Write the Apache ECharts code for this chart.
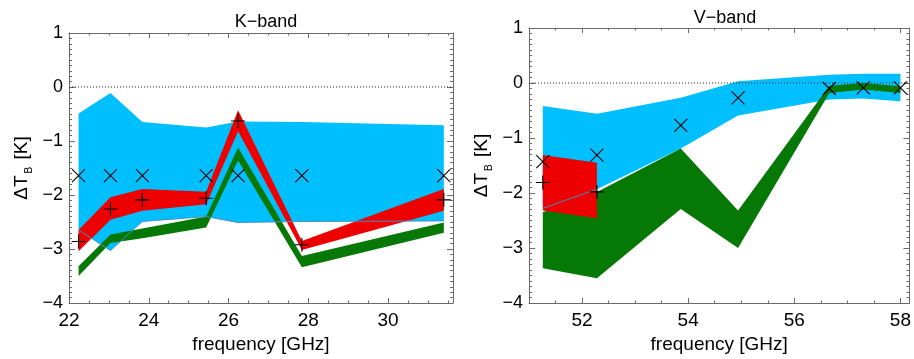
<!DOCTYPE html>
<html>
<head>
<meta charset="utf-8">
<script src="https://cdn.jsdelivr.net/npm/echarts@6.0.0/dist/echarts.min.js"></script>
<style>
html,body{margin:0;padding:0;background:#fff;}
#c{width:914px;height:359px;}
</style>
</head>
<body>
<div id="c"></div>
<script>
// ---------- K-band data ----------
const kFreq     = [22.24, 23.04, 23.84, 25.44, 26.24, 27.84, 31.40];
const kCyanHi   = [-0.49, -0.11, -0.65, -0.75, -0.64, -0.65, -0.71];
const kCyanLo   = [-2.65, -3.03, -2.49, -2.40, -2.51, -2.49, -2.48];
const kRedHi    = [-2.65, -2.04, -1.89, -1.94, -0.43, -2.85, -1.89];
const kRedLo    = [-3.04, -2.46, -2.29, -2.17, -0.82, -3.02, -2.29];
const kGreenHi  = [-3.32, -2.73, -2.62, -2.40, -1.12, -3.13, -2.51];
const kGreenLo  = [-3.50, -2.89, -2.80, -2.60, -1.36, -3.34, -2.70];
const kCross    = [-1.64, -1.64, -1.64, -1.64, -1.64, -1.64, -1.64];
const kPlus     = [-2.86, -2.26, -2.09, -2.06, -0.63, -2.92, -2.09];
const kTicks    = [22, 24, 26, 28, 30];

// ---------- V-band data ----------
const vFreq     = [51.26, 52.28, 53.86, 54.94, 56.66, 57.30, 58.00];
const vCyanHi   = [-0.42, -0.56, -0.27, 0.03, 0.15, 0.17, 0.17];
const vCyanLo   = [-2.28, -1.93, -1.19, -0.59, -0.30, -0.28, -0.33];
const vGreenHi  = [-2.35, -1.98, -1.19, -2.32, -0.05, 0.00, -0.06];
const vGreenLo  = [-3.37, -3.55, -2.29, -3.00, -0.18, -0.12, -0.18];
const vRedFreq  = [51.26, 52.28];
const vRedHi    = [-1.31, -1.45];
const vRedLo    = [-2.32, -2.46];
const vCross    = [-1.43, -1.31, -0.77, -0.27, -0.10, -0.09, -0.09];
const vPlusFreq = [51.26, 52.28];
const vPlus     = [-1.81, -1.98];
const vTicks    = [52, 54, 56, 58];

const yTicks = [-4, -3, -2, -1, 0, 1];

const FONT = "'Liberation Sans', Arial, Helvetica, sans-serif";
const AXC = '#6a6a6a';
const CYAN = '#00bfff', RED = '#ee0000', GREEN = '#067806';

function fmtNum(v){ return v < 0 ? '\u2212' + (-v) : String(v); }

function xAxes(grid, min, max, majors){
  const base = {gridIndex: grid, type: 'value', min: min, max: max, interval: 0.5,
    splitLine: {show: false}};
  const line = {show: true, onZero: false, lineStyle: {color: AXC, width: 1}};
  return [
    Object.assign({}, base, {position: 'bottom', axisLine: line,
      axisTick: {show: true, inside: true, length: 2.5, lineStyle: {color: AXC}},
      axisLabel: {show: true, margin: 8, color: '#000', fontSize: 19, fontFamily: FONT,
        formatter: v => majors.includes(v) ? String(v) : ''},
      name: 'frequency [GHz]', nameLocation: 'middle', nameGap: 32,
      nameTextStyle: {color: '#000', fontSize: 19, fontFamily: FONT}}),
    Object.assign({}, base, {position: 'bottom', axisLine: {show: false, onZero: false},
      axisTick: {show: true, inside: true, length: 5, customValues: majors, lineStyle: {color: AXC}},
      axisLabel: {show: false}}),
    Object.assign({}, base, {position: 'top', axisLine: line,
      axisTick: {show: true, inside: true, length: 2.5, lineStyle: {color: AXC}},
      axisLabel: {show: false}}),
    Object.assign({}, base, {position: 'top', axisLine: {show: false, onZero: false},
      axisTick: {show: true, inside: true, length: 5, customValues: majors, lineStyle: {color: AXC}},
      axisLabel: {show: false}})
  ];
}

function yAxes(grid){
  const base = {gridIndex: grid, type: 'value', min: yTicks[0], max: yTicks[yTicks.length-1], interval: 1,
    splitLine: {show: false},
    axisLine: {show: true, onZero: false, lineStyle: {color: AXC, width: 1}},
    axisTick: {show: true, inside: true, length: 6, lineStyle: {color: AXC}},
    minorTick: {show: true, splitNumber: 10, length: 3, lineStyle: {color: AXC}}};
  return [
    Object.assign({}, base, {position: 'left',
      axisLabel: {show: true, margin: 6, color: '#000', fontSize: 18, fontFamily: FONT, formatter: fmtNum},
      name: '{a|\u0394T}{s|B}{a| [K]}', nameLocation: 'middle', nameGap: 35, nameRotate: 90,
      nameTextStyle: {color: '#000', fontFamily: FONT,
        rich: {a: {fontSize: 19, fontFamily: FONT, color: '#000', lineHeight: 24, verticalAlign: 'middle'},
               s: {fontSize: 10, fontFamily: FONT, color: '#000', lineHeight: 24, verticalAlign: 'bottom', padding: [0, 2, 0, 2]}}}}),
    Object.assign({}, base, {position: 'right', axisLabel: {show: false}})
  ];
}

function band(xs, lo, hi, color, xi, yi, z){
  return {type: 'custom', xAxisIndex: xi, yAxisIndex: yi, z: z, silent: true,
    data: [[xs[0], lo[0]]],
    renderItem: function(params, api){
      const pts = [];
      for (let i = 0; i < xs.length; i++) pts.push(api.coord([xs[i], hi[i]]));
      for (let i = xs.length - 1; i >= 0; i--) pts.push(api.coord([xs[i], lo[i]]));
      return {type: 'polygon', shape: {points: pts}, style: {fill: color, stroke: null}};
    }};
}

function pairs(xs, ys){ return xs.map((x, i) => [x, ys[i]]); }

const CROSS = 'path://M0,0L10,10M10,0L0,10';
const PLUS = 'path://M5,0L5,10M0,5L10,5';

function markers(xs, ys, sym, xi, yi, size){
  return {type: 'scatter', xAxisIndex: xi, yAxisIndex: yi, z: 10, silent: true,
    symbol: sym, symbolSize: size, data: pairs(xs, ys),
    itemStyle: {color: 'transparent', borderColor: '#000', borderWidth: 1.1, opacity: 1}};
}

function edgeLine(xs, ys, xi, yi){
  return {type: 'line', xAxisIndex: xi, yAxisIndex: yi, z: 6, silent: true, symbol: 'none',
    data: pairs(xs, ys), lineStyle: {color: '#4a8fc4', width: 1}};
}

function zeroLine(min, max, xi, yi){
  return {type: 'line', xAxisIndex: xi, yAxisIndex: yi, z: 7, silent: true, symbol: 'none',
    data: [[min, 0], [max, 0]], lineStyle: {color: '#222', width: 1, type: [1, 2]}};
}

const K_MIN = 22, K_MAX = 31.63, V_MIN = 51, V_MAX = 58.17;

const option = {
  animation: false,
  backgroundColor: '#fff',
  title: [
    {text: 'K\u2212band', left: 261, top: 8, textAlign: 'center',
     textStyle: {fontSize: 18, fontWeight: 'normal', color: '#000', fontFamily: FONT}},
    {text: 'V\u2212band', left: 720, top: 4, textAlign: 'center',
     textStyle: {fontSize: 18, fontWeight: 'normal', color: '#000', fontFamily: FONT}}
  ],
  grid: [
    {left: 69, top: 33, width: 384, height: 271},
    {left: 529, top: 28, width: 383, height: 276}
  ],
  xAxis: [].concat(xAxes(0, K_MIN, K_MAX, kTicks), xAxes(1, V_MIN, V_MAX, vTicks)),
  yAxis: [].concat(yAxes(0), yAxes(1)),
  series: [
    // K-band (xAxis 0, yAxis 0)
    band(kFreq, kCyanLo, kCyanHi, CYAN, 0, 0, 1),
    band(kFreq, kGreenLo, kGreenHi, GREEN, 0, 0, 2),
    band(kFreq, kRedLo, kRedHi, RED, 0, 0, 3),
    edgeLine(kFreq, kCyanLo, 0, 0),
    zeroLine(K_MIN, K_MAX, 0, 0),
    markers(kFreq, kCross, CROSS, 0, 0, 13),
    markers(kFreq, kPlus, PLUS, 0, 0, 14),
    // V-band (xAxis 4, yAxis 2)
    band(vFreq, vCyanLo, vCyanHi, CYAN, 4, 2, 1),
    band(vFreq, vGreenLo, vGreenHi, GREEN, 4, 2, 2),
    band(vRedFreq, vRedLo, vRedHi, RED, 4, 2, 3),
    edgeLine(vRedFreq, vCyanLo.slice(0, 2), 4, 2),
    zeroLine(V_MIN, V_MAX, 4, 2),
    markers(vFreq, vCross, CROSS, 4, 2, 13),
    markers(vPlusFreq, vPlus, PLUS, 4, 2, 14)
  ]
};

const chart = echarts.init(document.getElementById('c'), null, {renderer: 'canvas'});
chart.setOption(option);
</script>
</body>
</html>
